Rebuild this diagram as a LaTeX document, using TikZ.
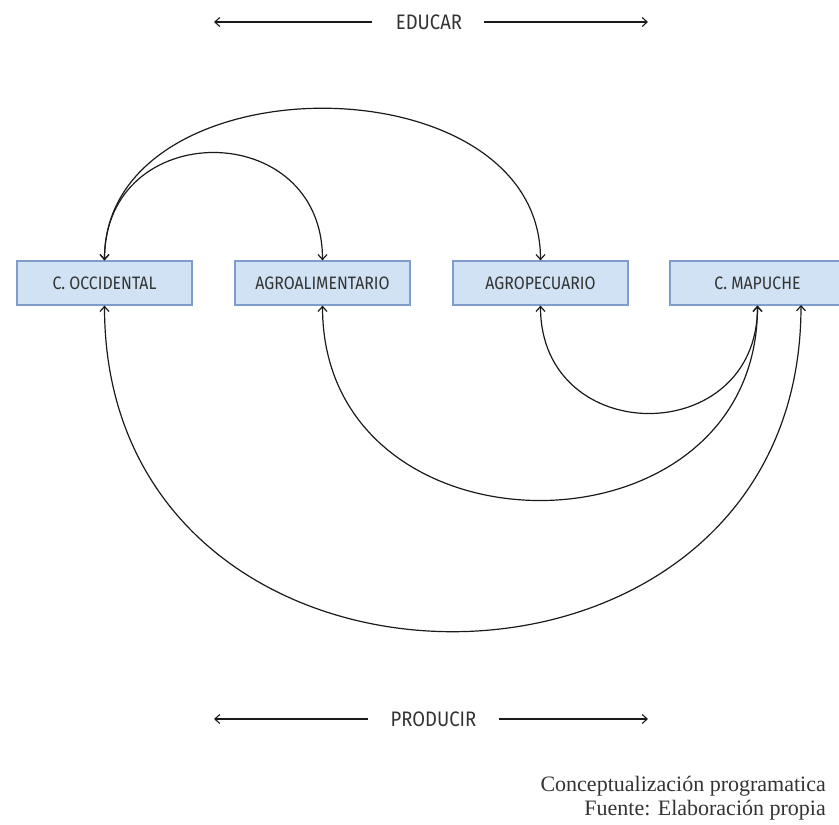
\documentclass[tikz,border=0pt]{standalone}
\usepackage{fontspec}
\setmainfont{Liberation Serif}
\newfontfamily\boxfont[FakeStretch=0.88]{Fira Sans}
\usetikzlibrary{arrows.meta}
\definecolor{boxfill}{HTML}{D0E2F3}
\definecolor{boxline}{HTML}{7E9DCB}
\definecolor{txt}{HTML}{333333}
\definecolor{ln}{HTML}{1A1A1A}
\tikzset{
  area/.style={draw=boxline, fill=boxfill, line width=1.2pt, minimum width=175pt, minimum height=44pt, inner sep=0pt, font=\boxfont\fontsize{18}{21}\selectfont, text=txt},
  biarrow/.style={draw=ln, line width=1.2pt, {Straight Barb[length=5pt,width=9pt]}-{Straight Barb[length=5pt,width=9pt]}},
  onearrow/.style={draw=ln, line width=1.1pt, -{Straight Barb[length=5pt,width=9pt]}},
  axislabel/.style={font=\boxfont\fontsize{21}{24}\selectfont, text=txt, inner xsep=0pt},
}
\begin{document}
\begin{tikzpicture}[x=1pt,y=-1pt]
\useasboundingbox (0,0) rectangle (839,825);
% boxes
\node[area] (occ) at (104.5,283) {C. OCCIDENTAL};
\node[area] (ali) at (322.5,283) {AGROALIMENTARIO};
\node[area] (pec) at (540.5,283) {AGROPECUARIO};
\node[area] (map) at (757.5,283) {C. MAPUCHE};
% top connectors
\draw[biarrow] (occ.north) .. controls (104.5,58) and (540.5,58) .. (pec.north);
\draw[biarrow] (occ.north) .. controls (104.5,117) and (322.5,117) .. (ali.north);
% bottom connectors
\draw[biarrow] (pec.south) .. controls (540.5,449) and (757.5,449) .. (map.south);
\draw[biarrow] (ali.south) .. controls (322.5,565) and (757.5,565) .. (map.south);
\coordinate (map2) at (801,305);
\draw[biarrow] (occ.south) .. controls (104.5,740) and (801,740) .. (map2);
% EDUCAR
\node[axislabel] (edu) at (429,22) {EDUCAR};
\coordinate (eduL0) at (372,22);
\coordinate (eduL) at (214,22);
\coordinate (eduR0) at (484,22);
\coordinate (eduR) at (648,22);
\draw[onearrow] (eduL0) -- (eduL);
\draw[onearrow] (eduR0) -- (eduR);
% PRODUCIR
\node[axislabel] (pro) at (433.5,719) {PRODUCIR};
\coordinate (proL0) at (368,719);
\coordinate (proL) at (214,719);
\coordinate (proR0) at (499,719);
\coordinate (proR) at (648,719);
\draw[onearrow] (proL0) -- (proL);
\draw[onearrow] (proR0) -- (proR);
% caption
\node[anchor=east, text=txt, font=\fontsize{22}{26}\selectfont, inner sep=0pt] (cap1) at (826,786) {Conceptualización programatica};
\node[anchor=east, text=txt, font=\fontsize{22}{26}\selectfont, inner sep=0pt] (cap2) at (826,810) {Fuente: Elaboración propia};
\end{tikzpicture}
\end{document}
